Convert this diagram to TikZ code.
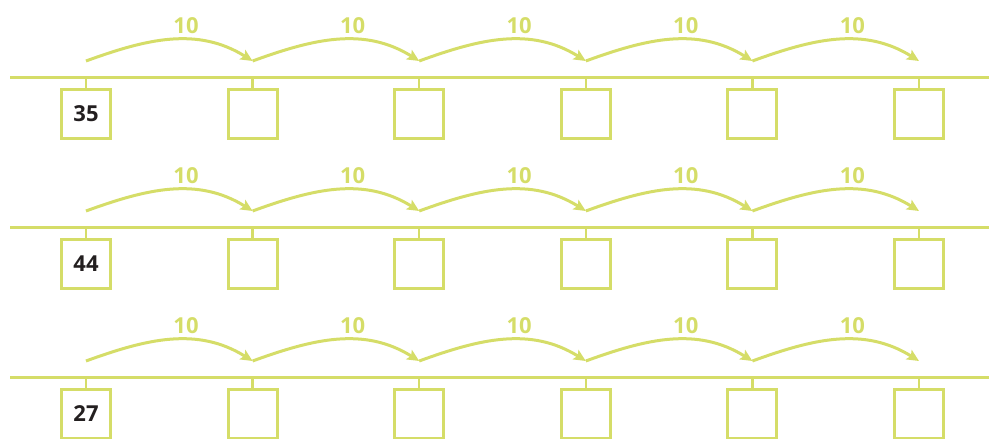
\documentclass[tikz,border=0pt]{standalone}
\usepackage{fontspec}
\setsansfont{Open Sans}
\usetikzlibrary{arrows.meta}
\newcommand{\STEP}{166.6}
\newcommand{\ROWGAP}{150}
\definecolor{nlgreen}{RGB}{213,221,104}
\definecolor{nlink}{RGB}{35,31,32}

\begin{document}
\begin{tikzpicture}[
    x=1pt, y=1pt,
    >={Stealth[length=12pt,width=11pt,inset=2.5pt]},
    axis/.style={draw=nlgreen, line width=3pt},
    tick/.style={draw=nlgreen, line width=2.5pt},
    box/.style={draw=nlgreen, line width=3pt, fill=white, minimum size=49pt, inner sep=0pt,
      text=nlink, font=\sffamily\bfseries\fontsize{22}{22}\selectfont},
    hop/.style={draw=nlgreen, line width=3pt, ->},
    lbl/.style={text=nlgreen, inner sep=0pt, font=\sffamily\bfseries\fontsize{22}{22}\selectfont},
  ]
  \useasboundingbox (0,0) rectangle (989,439);

  %% ================= three number lines, each with five jumps of 10 =================
  \foreach \r/\v in {0/35,1/44,2/27} {
    \pgfmathsetmacro{\yl}{361-\r*\ROWGAP}
    \draw[axis] (10,\yl) -- (989,\yl);
    % the boxes hang from the line, only the first one is filled in
    \foreach \i in {0,...,5} {
      \pgfmathsetmacro{\xc}{86+\i*\STEP}
      \coordinate (t\r\i) at (\xc,\yl);
      \coordinate (a\r\i) at (\xc,\yl+17);
      \node[box] (b\r\i) at (\xc,\yl-36) {\ifnum\i=0 \v\fi};
      \draw[tick] (t\r\i) -- (b\r\i.north);
    }
    % the jumps
    \foreach \i [evaluate=\i as \j using int(\i+1)] in {0,...,4} {
      \draw[hop] (a\r\i) to[out=20,in=148] (a\r\j);
      \node[lbl] (n\r\i) at ([shift={(100,35.5)}]a\r\i) {10};
    }
  }

\end{tikzpicture}
\end{document}
